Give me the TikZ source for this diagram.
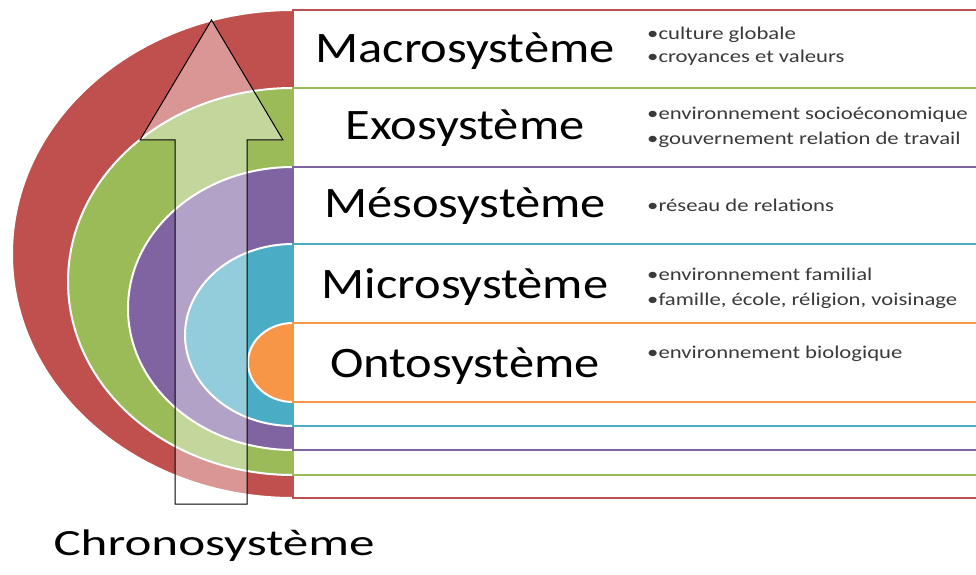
\documentclass[tikz,border=0pt]{standalone}
\usepackage{fontspec}
\setmainfont{Carlito}
\definecolor{cred}{HTML}{C0504D}
\definecolor{cgreen}{HTML}{9BBB59}
\definecolor{cpurple}{HTML}{8064A2}
\definecolor{cblue}{HTML}{4BACC6}
\definecolor{corange}{HTML}{F79646}
\definecolor{textgrey}{HTML}{3A3A3A}
\begin{document}
\begin{tikzpicture}[x=1pt,y=1pt,
  band/.style={line width=2.5pt},
  halfring/.style={draw=white, line width=2pt},
  title/.style={anchor=base, inner sep=0pt, text=black, font=\fontsize{43.5}{44}\selectfont},
  item/.style={anchor=base west, inner sep=0pt, text=textgrey, font=\fontsize{18}{20}\selectfont},
  chrono/.style={anchor=base, inner sep=0pt, text=black, font=\fontsize{37}{38}\selectfont},
  bigarrow/.style={draw=black, line width=1pt, fill=white, fill opacity=0.4}]
\useasboundingbox (0,0) rectangle (976,574);
\fill[white] (0,0) rectangle (976,574);
% half rings
\path[halfring, fill=cred] (293,564) arc[start angle=90, end angle=270, x radius=281, y radius=244] -- cycle;
\path[halfring, fill=cgreen] (293,486) arc[start angle=90, end angle=270, x radius=225, y radius=193.5] -- cycle;
\path[halfring, fill=cpurple] (293,407) arc[start angle=90, end angle=270, x radius=165, y radius=141.5] -- cycle;
\path[halfring, fill=cblue] (293,330) arc[start angle=90, end angle=270, x radius=108, y radius=91] -- cycle;
\path[halfring, fill=corange] (293,251) arc[start angle=90, end angle=270, x radius=45, y radius=39.5] -- cycle;
% bands
\draw[band, draw=cred, fill=white] (293,76) rectangle (990,564);
\draw[band, draw=cgreen, fill=white] (293,99) rectangle (990,486);
\draw[band, draw=cpurple, fill=white] (293,124) rectangle (990,407);
\draw[band, draw=cblue, fill=white] (293,148) rectangle (990,330);
\draw[band, draw=corange, fill=white] (293,172) rectangle (990,251);
% arrow
\draw[bigarrow] (175,70) -- (175,434) -- (140,434) -- (211.5,554) -- (283,434) -- (247,434) -- (247,70) -- cycle;
% titles
\node[title] (macro) at (465,511) {\scalebox{1.16}[1]{Macrosystème}};
\node[title] (exo) at (465,434) {\scalebox{1.16}[1]{Exosystème}};
\node[title] (meso) at (465,357) {\scalebox{1.16}[1]{Mésosystème}};
\node[title] (micro) at (465,276) {\scalebox{1.16}[1]{Microsystème}};
\node[title] (onto) at (465,197) {\scalebox{1.16}[1]{Ontosystème}};
% items
\node[item] (m1) at (647,534) {\scalebox{1.26}[1]{•culture globale}};
\node[item] (m2) at (647,511) {\scalebox{1.26}[1]{•croyances et valeurs}};
\node[item] (e1) at (647,454) {\scalebox{1.26}[1]{•environnement socioéconomique}};
\node[item] (e2) at (647,429) {\scalebox{1.26}[1]{•gouvernement relation de travail}};
\node[item] (s1) at (647,363) {\scalebox{1.26}[1]{•réseau de relations}};
\node[item] (i1) at (647,294) {\scalebox{1.26}[1]{•environnement familial}};
\node[item] (i2) at (647,269) {\scalebox{1.26}[1]{•famille, école, réligion, voisinage}};
\node[item] (o1) at (647,216) {\scalebox{1.26}[1]{•environnement biologique}};
% chrono
\node[chrono] (chrono) at (214,19) {\scalebox{1.38}[1]{Chronosystème}};
\end{tikzpicture}
\end{document}
